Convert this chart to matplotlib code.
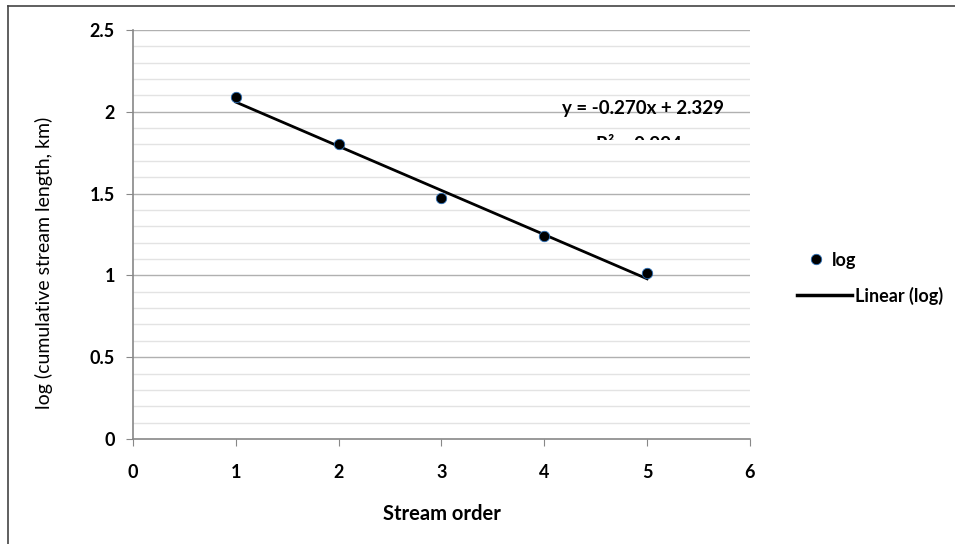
import numpy as np
import matplotlib
matplotlib.use('Agg')
import matplotlib.pyplot as plt
from matplotlib.lines import Line2D
from matplotlib.patches import Rectangle

# stream order vs log(cumulative stream length)
stream_order = [1, 2, 3, 4, 5]
log_length = [2.09, 1.80, 1.47, 1.24, 1.015]

# linear trendline coefficients shown on the chart
slope = -0.270
intercept = 2.329
r_squared = 0.994

x_ticks = [0, 1, 2, 3, 4, 5, 6]
y_ticks = [0, 0.5, 1, 1.5, 2, 2.5]
y_tick_labels = ['0', '0.5', '1', '1.5', '2', '2.5']

plt.rcParams['font.family'] = ['Lato', 'DejaVu Sans']

W, H = 955, 544
fig = plt.figure(figsize=(W / 100, H / 100), dpi=100)
ax = fig.add_axes([0.1393, 0.193, 0.646, 0.752])

# gridlines: minor every 0.1, major every 0.5
for v in np.arange(0.1, 2.51, 0.1):
    major = abs(v / 0.5 - round(v / 0.5)) < 1e-6
    ax.axhline(v, color='#b0b0b0' if major else '#e3e3e3', lw=1.0, zorder=1)

fit_x = np.array([stream_order[0], stream_order[-1]])
fit_y = slope * fit_x + intercept
marker_style = dict(color='black', markersize=7.5, markeredgecolor='#2a6db5',
                    markeredgewidth=0.6)
ax.plot(stream_order, log_length, 'o', zorder=4, **marker_style)
ax.plot(fit_x, fit_y, color='black', lw=2.0, zorder=3)

ax.set_xlim(0, 6)
ax.set_ylim(0, 2.5)
ax.set_xticks(x_ticks)
ax.set_yticks(y_ticks)
ax.set_xticklabels([str(t) for t in x_ticks], fontweight='bold', fontsize=13)
ax.set_yticklabels(y_tick_labels, fontweight='bold', fontsize=13)
ax.tick_params(direction='out', length=5, color='#888888')
ax.tick_params(axis='x', pad=13)
ax.tick_params(axis='y', pad=8)
for s in ['top', 'right']:
    ax.spines[s].set_visible(False)
for s in ['left', 'bottom']:
    ax.spines[s].set_color('#888888')
    ax.spines[s].set_linewidth(1.2)

ax.set_xlabel('Stream order', fontweight='bold', fontsize=14.5)
ax.xaxis.set_label_coords(0.5, -0.16)
ax.set_ylabel('log (cumulative stream length, km)', fontsize=14)
ax.yaxis.set_label_coords(-0.13, 0.43)

ax.text(4.17, 2.02, f'y = {slope:.3f}x + {intercept:.3f}', fontweight='bold',
        fontsize=13.5, va='center', ha='left', zorder=5)
# R² label mostly hidden, only the top of the glyphs shows
ax.text(4.5, 1.85, f'R² = {r_squared:.3f}', fontweight='bold',
        fontsize=13.5, va='top', ha='left', zorder=0.5)
ax.add_patch(Rectangle((4.3, 1.72), 1.6, 0.106, facecolor='white',
                       edgecolor='none', zorder=0.8))

# legend, laid out like the spreadsheet one
fig.add_artist(Line2D([816 / W], [1 - 259 / H], marker='o', linestyle='none',
                      **marker_style))
fig.text(832 / W, 1 - 260 / H, 'log', fontweight='bold', fontsize=13, va='center')
fig.add_artist(Line2D([797 / W, 852 / W], [1 - 295 / H, 1 - 295 / H],
                      color='black', lw=2.5))
fig.text(855 / W, 1 - 296 / H, 'Linear (log)', fontweight='bold', fontsize=13,
         va='center')

# outer frame lines
fig.add_artist(Line2D([0.0085, 0.0085], [0.0, 0.989], color='#444444', lw=1.2))
fig.add_artist(Line2D([0.0085, 1.0], [0.989, 0.989], color='#444444', lw=1.2))

fig.savefig('out.png', dpi=100)
